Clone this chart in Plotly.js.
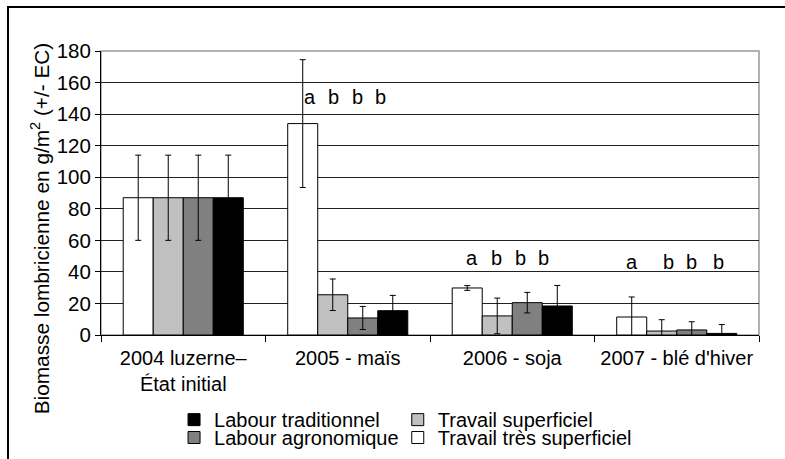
<!DOCTYPE html>
<html>
<head>
<meta charset="utf-8">
<script src="https://cdn.plot.ly/plotly-3.0.1.min.js"></script>
<style>
  html, body { margin: 0; padding: 0; background: #fff; }
  #frame { position: absolute; left: 7px; top: 6px; width: 790px; height: 470px;
           border-left: 2px solid #000; border-top: 2px solid #000; }
  #chart { position: absolute; left: 0; top: 0; width: 785px; height: 459px; }
</style>
</head>
<body>
<div id="frame"></div>
<div id="chart"></div>
<script>
// ---- data ----
const categories = ['2004 luzerne–<br>État initial', '2005 - maïs', '2006 - soja', "2007 - blé d'hiver"];
const seriesNames = ['Travail très superficiel', 'Travail superficiel', 'Labour agronomique', 'Labour traditionnel'];
const tresSuperficiel      = [87, 134, 29.8, 11.4];
const tresSuperficielErr   = [27, 40.5, 1.5, 12.7];
const superficiel          = [87, 25.5, 12.1, 2.5];
const superficielErr       = [27, 10, 11.3, 7.2];
const agronomique          = [87, 10.8, 20.5, 3.2];
const agronomiqueErr       = [27, 7.3, 6.5, 5.2];
const traditionnel         = [87, 15.4, 18.4, 1.0];
const traditionnelErr      = [27, 9.7, 13, 5.6];
const letters2005 = ['a', 'b', 'b', 'b'];
const letters2006 = ['a', 'b', 'b', 'b'];
const letters2007 = ['a', 'b', 'b', 'b'];
const letterLevels = [151, 49, 46.5];
const yTicks = [0, 20, 40, 60, 80, 100, 120, 140, 160, 180];

// ---- styling ----
const FONT = '"Liberation Sans", Arial, sans-serif';
const colors = ['#ffffff', '#c0c0c0', '#808080', '#000000'];
const legendIds = ['legend4', 'legend2', 'legend3', 'legend'];
const values = [tresSuperficiel, superficiel, agronomique, traditionnel];
const errs = [tresSuperficielErr, superficielErr, agronomiqueErr, traditionnelErr];

const traces = values.map((v, i) => ({
  type: 'bar',
  name: seriesNames[i],
  x: categories,
  y: v,
  legend: legendIds[i],
  marker: { color: colors[i], line: { color: '#000', width: 1 } },
  error_y: { type: 'data', array: errs[i], visible: true, color: '#000', thickness: 1, width: 3 },
  hoverinfo: 'skip'
}));

const annotations = [];
const letterSets = [letters2005, letters2006, letters2007];
const letterShifts = [[-38, -14, 10, 33], [-40, -16, 8, 31], [-45, -8, 15, 42]];
letterSets.forEach((set, g) => {
  set.forEach((l, k) => {
    annotations.push({
      x: categories[g + 1], y: letterLevels[g], xref: 'x', yref: 'y',
      text: l, showarrow: false, xshift: letterShifts[g][k],
      font: { family: FONT, size: 20, color: '#000' }
    });
  });
});
annotations.push({
  xref: 'paper', yref: 'paper', x: -0.093, y: 0.375,
  text: 'Biomasse lombricienne en g/m<sup>2</sup> (+/- EC)',
  textangle: -90, showarrow: false, xanchor: 'center', yanchor: 'middle',
  font: { family: FONT, size: 20.8, color: '#000' }
});

function legendAt(x, y) {
  return {
    orientation: 'h', xanchor: 'left', yanchor: 'middle', x: x, y: y,
    bgcolor: 'rgba(0,0,0,0)', borderwidth: 0,
    font: { family: FONT, size: 20, color: '#000' },
    itemwidth: 30
  };
}

const layout = {
  width: 785, height: 459,
  margin: { l: 101, r: 26, t: 51, b: 124, autoexpand: false },
  paper_bgcolor: 'rgba(0,0,0,0)',
  plot_bgcolor: 'rgba(0,0,0,0)',
  font: { family: FONT, size: 20, color: '#000' },
  barmode: 'group',
  bargap: 0.27,
  bargroupgap: 0,
  showlegend: true,
  legend:  legendAt(0.111, -0.298),
  legend2: legendAt(0.451, -0.298),
  legend3: legendAt(0.111, -0.361),
  legend4: legendAt(0.451, -0.361),
  xaxis: {
    type: 'category', automargin: false,
    showline: true, linecolor: '#000', linewidth: 1,
    ticks: 'outside', tickson: 'boundaries', ticklen: 6, tickcolor: '#000',
    ticklabelstandoff: 5,
    tickfont: { family: FONT, size: 20, color: '#000' },
    showgrid: false, zeroline: false
  },
  yaxis: {
    automargin: false,
    range: [0, 180], tickvals: yTicks, ticktext: yTicks.map(String),
    showline: true, linecolor: '#000', linewidth: 1,
    ticks: 'outside', ticklen: 5, tickcolor: '#000',
    tickfont: { family: FONT, size: 20.5, color: '#000' },
    showgrid: true, gridcolor: '#222', gridwidth: 1, zeroline: false
  },
  shapes: [{
    type: 'rect', xref: 'paper', yref: 'paper', x0: 0, x1: 1, y0: 0, y1: 1,
    line: { color: '#999', width: 1.5 }, layer: 'below'
  }],
  annotations: annotations
};

Plotly.newPlot('chart', traces, layout, { displayModeBar: false, staticPlot: true });
</script>
</body>
</html>
